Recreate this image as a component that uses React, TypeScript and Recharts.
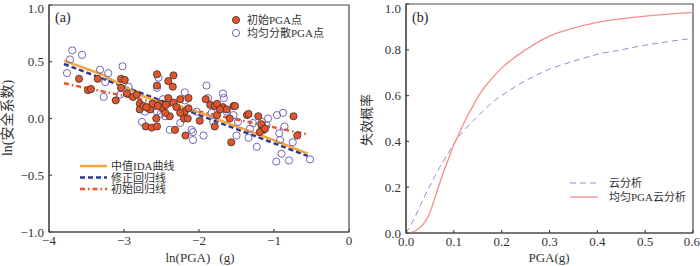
import React from "react";
import { ComposedChart, Scatter, Line, XAxis, YAxis, ReferenceArea, Legend } from "recharts";

const serif = "'Liberation Serif', 'Noto Sans CJK SC', serif";
const axisColor = "#4a4a4a";
const textColor = "#333";

// (a) ln(PGA) vs ln(安全系数)
const initialPts: [number, number][] = [
  [-3.6, 0.35], [-3.48, 0.25], [-3.44, 0.26], [-3.35, 0.35], [-3.04, 0.35], [-2.99, 0.34],
  [-3.04, 0.27], [-3.11, 0.16], [-2.96, 0.22], [-2.88, 0.19], [-2.83, 0.21], [-2.79, 0.13],
  [-2.79, 0.08], [-2.74, 0.11], [-2.71, -0.07], [-2.63, -0.08], [-2.56, -0.07], [-2.65, 0.08],
  [-2.56, 0.39], [-2.56, 0.29], [-2.57, 0.0], [-2.52, 0.13], [-2.48, 0.09], [-2.41, 0.33],
  [-2.34, 0.38], [-2.35, 0.28], [-2.41, 0.18], [-2.34, 0.14], [-2.39, 0.02], [-2.32, -0.1],
  [-2.25, 0.17], [-2.19, 0.06], [-2.18, -0.15], [-2.2, 0.0], [-2.14, 0.18], [-2.14, 0.09],
  [-1.99, -0.02], [-1.91, 0.17], [-1.85, 0.12], [-1.79, 0.11], [-1.76, 0.13], [-1.79, -0.07],
  [-1.76, 0.03], [-1.68, 0.1], [-1.63, 0.08], [-1.59, 0.0], [-1.57, -0.21], [-1.54, 0.11],
  [-1.52, 0.11], [-1.36, 0.03], [-1.34, 0.04], [-1.21, 0.02], [-1.16, -0.07], [-1.14, -0.1],
  [-1.19, -0.12], [-0.74, 0.02], [-0.69, -0.15], [-2.7, 0.1], [-2.62, 0.13], [-2.55, 0.11],
  [-2.45, 0.05], [-2.44, 0.12], [-2.3, 0.1], [-2.25, 0.05], [-2.15, 0.0], [-1.72, 0.08],
  [-1.17, -0.05], [-1.12, -0.09],
];

const uniformPts: [number, number][] = [
  [-3.76, 0.4], [-3.69, 0.6], [-3.72, 0.52], [-3.56, 0.56], [-3.32, 0.43], [-3.21, 0.4],
  [-3.27, 0.19], [-3.25, 0.32], [-3.02, 0.46], [-2.94, 0.28], [-3.05, 0.21], [-2.76, -0.03],
  [-2.72, 0.06], [-2.68, 0.09], [-2.6, 0.11], [-2.54, 0.36], [-2.56, 0.27], [-2.48, 0.17],
  [-2.51, 0.04], [-2.56, 0.06], [-2.45, 0.02], [-2.39, -0.1], [-2.25, -0.04], [-2.19, 0.23],
  [-2.19, 0.16], [-2.1, -0.1], [-2.08, -0.19], [-2.03, 0.06], [-2.08, -0.12], [-1.94, -0.15],
  [-1.9, 0.29], [-1.88, 0.18], [-1.81, -0.03], [-1.83, 0.05], [-1.68, 0.22], [-1.67, 0.18],
  [-1.63, 0.06], [-1.54, 0.03], [-1.5, -0.15], [-1.48, -0.03], [-1.34, -0.17], [-1.32, -0.09],
  [-1.28, -0.04], [-1.23, -0.25], [-1.16, -0.03], [-1.1, -0.06], [-1.08, 0.0], [-0.96, 0.03],
  [-0.97, -0.38], [-0.93, -0.13], [-0.92, -0.19], [-0.9, -0.31], [-0.88, 0.05], [-0.86, -0.07],
  [-0.8, -0.37], [-0.75, -0.21], [-0.52, -0.36],
];

const idaX = [-3.8, -3.3, -2.8, -2.5, -2.2, -1.9, -1.5, -1.0, -0.55];
const idaY = [0.51, 0.39, 0.21, 0.14, 0.1, 0.03, -0.07, -0.19, -0.31];
const fixedFitX = [-3.8, -0.55];
const fixedFitY = [0.48, -0.33];
const initFitX = [-3.8, -0.55];
const initFitY = [0.31, -0.14];

// (b) 失效概率
const pgaX = [0, 0.01, 0.02, 0.03, 0.04, 0.05, 0.06, 0.07, 0.08, 0.09, 0.1, 0.11, 0.12, 0.14, 0.16, 0.18, 0.2, 0.25, 0.3, 0.35, 0.4, 0.45, 0.5, 0.55, 0.6];
const cloudP = [0, 0.035, 0.075, 0.12, 0.165, 0.205, 0.245, 0.285, 0.32, 0.355, 0.39, 0.42, 0.445, 0.49, 0.53, 0.57, 0.6, 0.665, 0.715, 0.75, 0.78, 0.8, 0.82, 0.836, 0.85];
const uniformP = [0, 0.002, 0.01, 0.025, 0.05, 0.09, 0.15, 0.215, 0.275, 0.33, 0.385, 0.43, 0.475, 0.555, 0.625, 0.675, 0.72, 0.8, 0.86, 0.895, 0.92, 0.935, 0.947, 0.956, 0.963];

const toXY = (xs: number[], ys: number[]) => xs.map((x, i) => ({ x, y: ys[i] }));
const pts = (list: [number, number][]) => list.map(([x, y]) => ({ x, y }));

const minus = (v: number | string) => String(v).replace("-", "\u2212");
const tickStyle = { fontSize: 13, fill: textColor, fontFamily: serif };

const orange = "#F9A43A";
const navy = "#2B3A8C";
const red = "#EE5528";
const fillDot = "#E5532A";
const purple = "#7466B6";

function LeftOverlay() {
  const t = { fontFamily: serif, fontSize: 11, fill: textColor };
  return (
    <svg width={356} height={266} style={{ pointerEvents: "none" }}>
      <text x={55} y={22} fontFamily={serif} fontSize={14} fill="#222">(a)</text>
      <circle cx={236} cy={20} r={3.6} fill={fillDot} stroke="#333" strokeWidth={0.8} />
      <text x={247} y={24} {...t}>初始PGA点</text>
      <circle cx={236} cy={33} r={3.6} fill="none" stroke={purple} strokeWidth={1} />
      <text x={247} y={37} {...t}>均匀分散PGA点</text>
      <line x1={80} x2={107} y1={166} y2={166} stroke={orange} strokeWidth={2.5} />
      <text x={111} y={170} {...t}>中值IDA曲线</text>
      <line x1={80} x2={107} y1={177.5} y2={177.5} stroke={navy} strokeWidth={2.5} strokeDasharray="5 3" />
      <text x={111} y={181.5} {...t}>修正回归线</text>
      <line x1={80} x2={107} y1={189} y2={189} stroke={red} strokeWidth={2.5} strokeDasharray="5 3 1.5 3" />
      <text x={111} y={193} {...t}>初始回归线</text>
      <text x={7} y={118} transform="rotate(-90, 7, 118)" textAnchor="middle" dominantBaseline="central" fontFamily={serif} fontSize={14} fill={textColor}>
        ln(安全系数)
      </text>
      <text x={200} y={262} textAnchor="middle" fontFamily={serif} fontSize={13} fill={textColor}>
        ln(PGA){"\u2002\u2009"}(g)
      </text>
    </svg>
  );
}

function RightOverlay() {
  const t = { fontFamily: serif, fontSize: 11, fill: textColor };
  return (
    <svg width={350} height={266} style={{ pointerEvents: "none" }}>
      <text x={62} y={22} fontFamily={serif} fontSize={14} fill="#222">(b)</text>
      <line x1={220} x2={248} y1={183} y2={183} stroke="#8F8FD4" strokeWidth={1} strokeDasharray="6 4" />
      <text x={259} y={187} {...t}>云分析</text>
      <line x1={220} x2={248} y1={197} y2={197} stroke="#F28F88" strokeWidth={1.3} />
      <text x={259} y={201} {...t}>均匀PGA云分析</text>
      <text x={16} y={120} transform="rotate(-90, 16, 120)" textAnchor="middle" dominantBaseline="central" fontFamily={serif} fontSize={13} fill={textColor}>
        失效概率
      </text>
      <text x={199} y={262} textAnchor="middle" fontFamily={serif} fontSize={13} fill={textColor}>
        PGA(g)
      </text>
    </svg>
  );
}

const overlayProps = {
  layout: "vertical" as const,
  align: "center" as const,
  verticalAlign: "middle" as const,
};

export default function App() {
  return (
    <div style={{ position: "absolute", left: 0, top: 0, width: 700, height: 266, background: "#fff" }}>
      <div style={{ position: "absolute", left: 0, top: 0 }}>
        <ComposedChart width={356} height={266} margin={{ top: 5, right: 7, left: 0, bottom: 0 }}>
          <XAxis
            type="number"
            dataKey="x"
            domain={[-4, 0]}
            ticks={[-4, -3, -2, -1, 0]}
            allowDataOverflow
            height={34}
            stroke={axisColor}
            strokeWidth={1.2}
            tickSize={-3}
            tickMargin={7}
            tick={tickStyle}
            tickFormatter={minus}
          />
          <YAxis
            type="number"
            dataKey="y"
            domain={[-1, 1]}
            ticks={[-1, -0.5, 0, 0.5, 1]}
            allowDataOverflow
            width={49}
            stroke={axisColor}
            strokeWidth={1.2}
            tickSize={-3}
            tickMargin={8}
            tick={tickStyle}
            tickFormatter={(v: number) => minus(Number(v).toFixed(1))}
          />
          <Scatter
            data={pts(uniformPts)}
            isAnimationActive={false}
            shape={(p: any) => <circle cx={p.cx} cy={p.cy} r={3.6} fill="none" stroke={purple} strokeWidth={1} />}
          />
          <Scatter
            data={pts(initialPts)}
            isAnimationActive={false}
            shape={(p: any) => <circle cx={p.cx} cy={p.cy} r={3.6} fill={fillDot} stroke="#333" strokeWidth={0.8} />}
          />
          <Line data={toXY(initFitX, initFitY)} dataKey="y" stroke={red} strokeWidth={2.5} strokeDasharray="5 3 1.5 3" dot={false} isAnimationActive={false} />
          <Line data={toXY(fixedFitX, fixedFitY)} dataKey="y" stroke={navy} strokeWidth={2.5} strokeDasharray="5 3" dot={false} isAnimationActive={false} />
          <Line data={toXY(idaX, idaY)} dataKey="y" stroke={orange} strokeWidth={2.5} dot={false} isAnimationActive={false} />
          <ReferenceArea x1={-4} x2={0} y1={-1} y2={1} fill="none" stroke={axisColor} strokeWidth={1.2} />
          <Legend {...overlayProps} wrapperStyle={{ position: "absolute", left: 0, top: 0, width: 356, height: 266 }} content={() => <LeftOverlay />} />
        </ComposedChart>
      </div>
      <div style={{ position: "absolute", left: 350, top: 0 }}>
        <ComposedChart width={350} height={266} margin={{ top: 4, right: 7, left: 0, bottom: 0 }}>
          <XAxis
            type="number"
            dataKey="x"
            domain={[0, 0.6]}
            ticks={[0, 0.1, 0.2, 0.3, 0.4, 0.5, 0.6]}
            allowDataOverflow
            height={33}
            stroke={axisColor}
            strokeWidth={1.2}
            tickSize={-3}
            tickMargin={7}
            tick={tickStyle}
            tickFormatter={(v: number) => Number(v).toFixed(1)}
          />
          <YAxis
            type="number"
            dataKey="y"
            domain={[0, 1]}
            ticks={[0, 0.2, 0.4, 0.6, 0.8, 1]}
            allowDataOverflow
            width={56}
            stroke={axisColor}
            strokeWidth={1.2}
            tickSize={-3}
            tickMargin={8}
            tick={tickStyle}
            tickFormatter={(v: number) => Number(v).toFixed(1)}
          />
          <Line data={toXY(pgaX, cloudP)} dataKey="y" type="monotone" stroke="#8F8FD4" strokeWidth={1} strokeDasharray="6 4" dot={false} isAnimationActive={false} />
          <Line data={toXY(pgaX, uniformP)} dataKey="y" type="monotone" stroke="#F28F88" strokeWidth={1.3} dot={false} isAnimationActive={false} />
          <ReferenceArea x1={0} x2={0.6} y1={0} y2={1} fill="none" stroke={axisColor} strokeWidth={1.2} />
          <Legend {...overlayProps} wrapperStyle={{ position: "absolute", left: 0, top: 0, width: 350, height: 266 }} content={() => <RightOverlay />} />
        </ComposedChart>
      </div>
    </div>
  );
}
